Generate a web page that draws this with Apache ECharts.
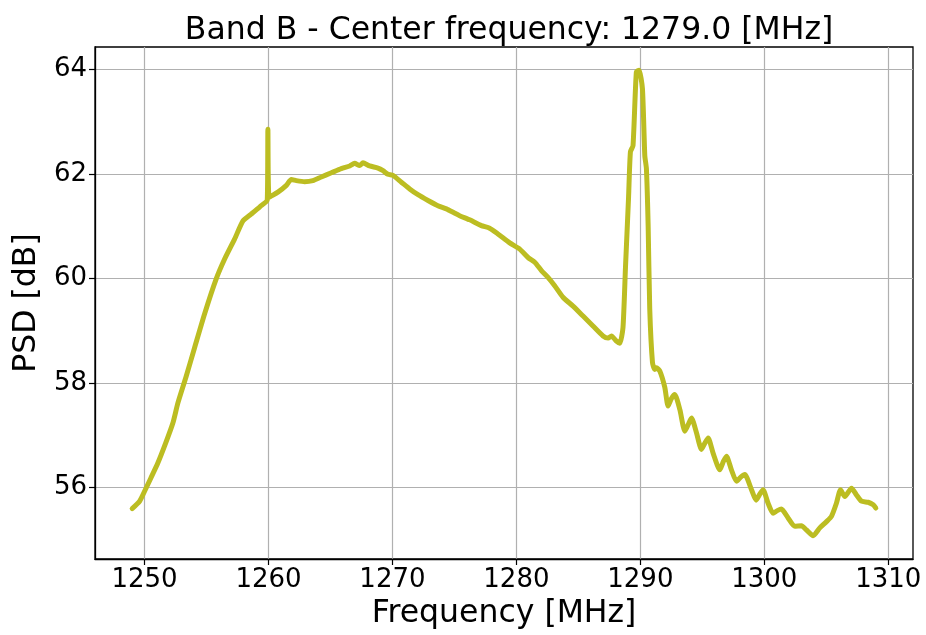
<!DOCTYPE html>
<html>
<head>
<meta charset="utf-8">
<script src="https://cdn.jsdelivr.net/npm/echarts@6/dist/echarts.min.js"></script>
<style>
html,body{margin:0;padding:0;background:#fff;}
#chart{width:926px;height:635px;}
</style>
</head>
<body>
<div id="chart"></div>
<script>
const titleText = "Band B - Center frequency: 1279.0 [MHz]";
const xName = "Frequency [MHz]";
const yName = "PSD [dB]";
const xTicks = [1250, 1260, 1270, 1280, 1290, 1300, 1310];
const yTicks = [56, 58, 60, 62, 64];

const freq = [
  1249.0, 1249.6, 1250.0, 1250.5, 1251.07, 1251.7, 1252.29, 1252.69, 1253.36, 1254.04,
  1254.84, 1255.78, 1256.46, 1257.26, 1257.94, 1258.6, 1259.3, 1259.9, 1259.95, 1260.05,
  1260.76, 1261.44, 1261.84, 1262.24, 1262.91, 1263.58, 1264.26, 1265.07, 1265.87, 1266.55,
  1266.95, 1267.35, 1267.62, 1268.16, 1268.83, 1269.24, 1269.64, 1270.04, 1270.72, 1271.39,
  1272.06, 1272.87, 1273.67, 1274.35, 1275.0, 1275.42, 1276.23, 1277.17, 1277.84, 1278.51,
  1279.46, 1280.27, 1280.94, 1281.48, 1282.02, 1282.55, 1283.09, 1283.76, 1284.57, 1285.38,
  1286.18, 1286.99, 1287.4, 1287.67, 1288.07, 1288.34, 1288.6, 1288.8, 1289.05, 1289.2,
  1289.41, 1289.68, 1289.9, 1290.17, 1290.36, 1290.49, 1290.63, 1290.76, 1290.98, 1291.16,
  1291.3, 1291.57, 1291.97, 1292.24, 1292.5, 1292.78, 1293.19, 1293.59, 1293.85, 1294.13,
  1294.53, 1294.93, 1295.2, 1295.47, 1295.87, 1296.41, 1296.7, 1296.95, 1297.35, 1297.76,
  1298.1, 1298.43, 1298.97, 1299.34, 1299.65, 1299.9, 1300.31, 1300.71, 1301.05, 1301.38,
  1301.92, 1302.46, 1303.0, 1303.41, 1303.94, 1304.48, 1305.02, 1305.42, 1305.82, 1306.15,
  1306.5, 1307.04, 1307.44, 1307.84, 1308.38, 1308.79, 1309.0
];
const psd = [
  55.60, 55.74, 55.93, 56.18, 56.47, 56.85, 57.24, 57.62, 58.13, 58.68,
  59.32, 59.99, 60.37, 60.75, 61.10, 61.23, 61.37, 61.50, 62.85, 61.55,
  61.65, 61.78, 61.89, 61.87, 61.85, 61.87, 61.94, 62.02, 62.10, 62.15,
  62.20, 62.16, 62.21, 62.15, 62.11, 62.06, 61.99, 61.97, 61.84, 61.71,
  61.60, 61.49, 61.39, 61.33, 61.25, 61.20, 61.12, 61.01, 60.96, 60.85,
  60.68, 60.56, 60.40, 60.31, 60.15, 60.02, 59.86, 59.64, 59.47, 59.28,
  59.09, 58.90, 58.86, 58.90, 58.80, 58.76, 59.06, 60.20, 61.55, 62.42,
  62.54, 63.95, 63.98, 63.63, 62.35, 62.10, 61.01, 59.41, 58.39, 58.26,
  58.29, 58.23, 57.92, 57.56, 57.70, 57.78, 57.49, 57.08, 57.20, 57.33,
  57.05, 56.73, 56.85, 56.95, 56.66, 56.34, 56.50, 56.60, 56.34, 56.12,
  56.20, 56.25, 55.96, 55.76, 55.88, 55.96, 55.70, 55.51, 55.56, 55.59,
  55.42, 55.26, 55.27, 55.19, 55.08, 55.23, 55.35, 55.45, 55.70, 55.96,
  55.83, 55.99, 55.86, 55.74, 55.72, 55.67, 55.61
];

const xRange = [1246, 1312];
const yRange = [54.635, 64.425];

const chart = echarts.init(document.getElementById('chart'), null, {renderer: 'canvas'});
const font = 'DejaVu Sans';
const seriesData = freq.map((f, i) => [f, psd[i]]);

chart.setOption({
  animation: false,
  backgroundColor: '#ffffff',
  title: {
    text: titleText,
    left: 504,
    textAlign: 'center',
    top: 10,
    textStyle: {fontFamily: font, fontSize: 31.5, fontWeight: 'normal', color: '#000'}
  },
  grid: {
    left: 95, right: 13, top: 47, bottom: 76,
    show: true, borderColor: '#000', borderWidth: 1.3, backgroundColor: 'transparent',
    outerBoundsMode: 'none', containLabel: false
  },
  xAxis: {
    type: 'value',
    min: xRange[0], max: xRange[1],
    name: xName, nameLocation: 'middle', nameGap: 38,
    nameTextStyle: {fontFamily: font, fontSize: 31.5, color: '#000'},
    axisLine: {show: true, onZero: false, lineStyle: {color: '#000', width: 1.3}},
    axisTick: {show: true, inside: false, length: 6, lineStyle: {color: '#000', width: 1.2}, customValues: xTicks},
    axisLabel: {show: true, margin: 8, fontFamily: font, fontSize: 26, color: '#000', customValues: xTicks,
      formatter: v => String(v)},
    splitLine: {show: true, lineStyle: {color: '#b0b0b0', width: 1.2}, customValues: xTicks}
  },
  yAxis: {
    type: 'value',
    min: yRange[0], max: yRange[1],
    name: yName, nameLocation: 'middle', nameGap: 50, nameRotate: 90,
    nameTextStyle: {fontFamily: font, fontSize: 31.5, color: '#000'},
    axisLine: {show: true, onZero: false, lineStyle: {color: '#000', width: 1.3}},
    axisTick: {show: true, inside: false, length: 6, lineStyle: {color: '#000', width: 1.2}, customValues: yTicks},
    axisLabel: {show: true, margin: 8, fontFamily: font, fontSize: 26, color: '#000', customValues: yTicks,
      formatter: v => String(v)},
    splitLine: {show: true, lineStyle: {color: '#b0b0b0', width: 1.2}, customValues: yTicks}
  },
  series: [{
    type: 'line',
    data: seriesData,
    showSymbol: false,
    symbol: 'none',
    smooth: 0.2,
    lineStyle: {color: '#bcbd22', width: 5, join: 'round', cap: 'round'},
    itemStyle: {color: '#bcbd22'},
    z: 3
  }]
});
</script>
</body>
</html>
